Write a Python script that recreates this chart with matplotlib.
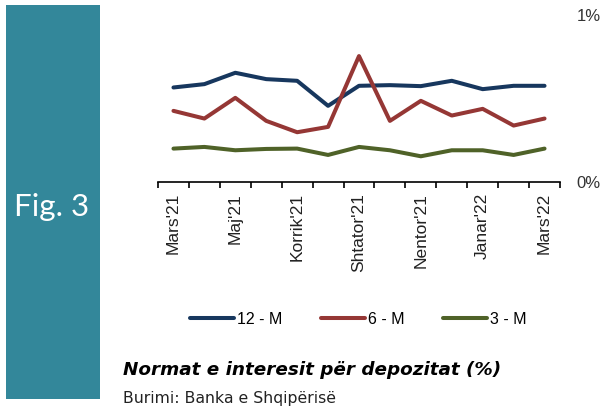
import numpy as np
import matplotlib.pyplot as plt
from matplotlib.patches import Rectangle

# ---- data ----
months = ["Mars'21", "Prill'21", "Maj'21", "Qershor'21", "Korrik'21", "Gusht'21",
          "Shtator'21", "Tetor'21", "Nentor'21", "Dhjetor'21", "Janar'22", "Shkurt'22", "Mars'22"]
m12 = [0.566, 0.586, 0.654, 0.616, 0.606, 0.456, 0.576, 0.580, 0.574, 0.606, 0.556, 0.576, 0.576]
m6 = [0.426, 0.380, 0.504, 0.366, 0.298, 0.330, 0.754, 0.366, 0.486, 0.398, 0.438, 0.338, 0.380]
m3 = [0.200, 0.210, 0.190, 0.198, 0.200, 0.162, 0.210, 0.190, 0.154, 0.190, 0.190, 0.162, 0.200]
series_names = ['12 - M', '6 - M', '3 - M']
colors = ['#17375E', '#953735', '#4F6228']

W, H = 609, 409
fig = plt.figure(figsize=(W / 100, H / 100), dpi=100, facecolor='white')

# teal side panel
fig.patches.append(Rectangle((6 / W, 1 - 399 / H), 94 / W, 394 / H,
                             transform=fig.transFigure, facecolor='#33879A',
                             edgecolor='none'))
fig.text(52 / W, 1 - 207 / H, 'Fig. 3', color='white', fontsize=22.5,
         family='Lato', ha='center', va='center')

# ---- main axes ----
ax = fig.add_axes([158 / W, 1 - 182 / H, (560 - 158) / W, (182 - 15) / H])
x = np.arange(len(months))
for vals, name, col in zip([m12, m6, m3], series_names, colors):
    ax.plot(x, vals, color=col, linewidth=2.9, label=name, solid_capstyle='round')

ax.set_xlim(-0.5, len(months) - 0.5)
ax.set_ylim(0, 1)
for s in ['top', 'right', 'left']:
    ax.spines[s].set_visible(False)
ax.spines['bottom'].set_color('black')
ax.spines['bottom'].set_linewidth(1.2)

ax.set_xticks(np.arange(-0.5, len(months), 1.0))
ax.set_xticklabels([])
ax.tick_params(axis='x', direction='out', length=4, width=1.2, color='black')
ax.set_xticks(x[::2], minor=True)
ax.set_xticklabels(months[::2], minor=True, rotation=90, family='Liberation Sans',
                   fontsize=12.5, color='#222222')
ax.tick_params(axis='x', which='minor', length=0, pad=8)

ax.yaxis.tick_right()
ax.set_yticks([0, 1])
ax.set_yticklabels(['0%', '1%'], family='Liberation Sans', fontsize=12, color='#333333')
ax.tick_params(axis='y', length=0, pad=12)

# legend
fig.legend(loc='center', bbox_to_anchor=(358 / W, 1 - 319 / H), ncol=3, frameon=False,
           prop={'family': 'Liberation Sans', 'size': 11.5}, handlelength=2.8,
           handletextpad=0.15, columnspacing=2.4)

fig.text(123 / W, 1 - 370 / H, 'Normat e interesit për depozitat (%)', fontsize=13.2,
         family='DejaVu Sans', fontweight='bold', fontstyle='italic',
         ha='left', va='center')
fig.text(123 / W, 1 - 399 / H, 'Burimi: Banka e Shqipërisë', fontsize=11.3,
         family='DejaVu Sans', ha='left', va='center', color='#222222')

fig.savefig('out.png', dpi=100, facecolor='white')
